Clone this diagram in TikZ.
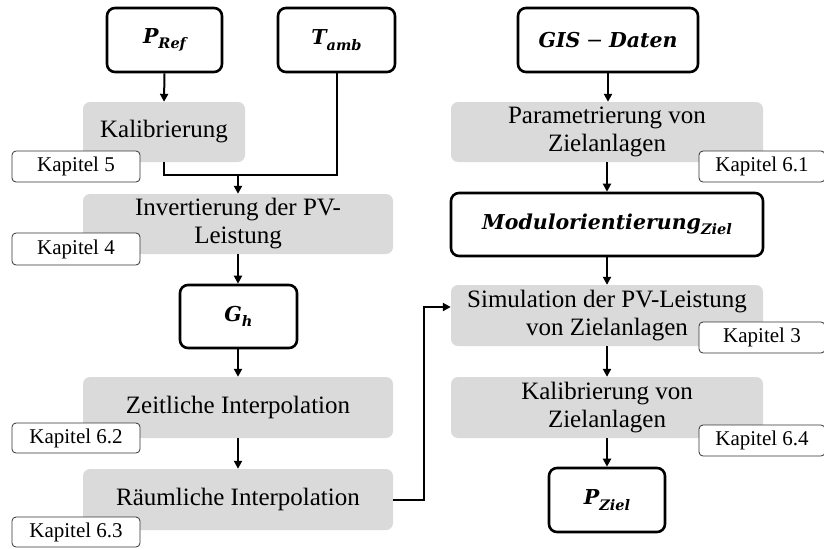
\documentclass[tikz,border=0pt]{standalone}
\usepackage{fontspec}
\setmainfont{Liberation Serif}
\newfontfamily\mathlabel{DejaVu Serif}
\usetikzlibrary{arrows.meta}
\definecolor{stepgrey}{RGB}{218,218,218}
\newcommand\sublbl[1]{\raisebox{-0.5ex}{\fontsize{14.5}{14.5}\selectfont #1}}
\newcommand\varlbl[2]{{\mathlabel\bfseries\itshape #1\sublbl{#2}}}
\tikzset{
  inputbox/.style={draw=black, line width=2.6pt, rounded corners=8pt, fill=white,
    inner sep=0pt, font=\fontsize{20.5}{24}\selectfont},
  stepbox/.style={fill=stepgrey, rounded corners=7pt, inner sep=0pt, align=center,
    font=\fontsize{25}{28}\selectfont},
  kapbox/.style={draw=black!80, line width=0.8pt, rounded corners=4pt, fill=white,
    inner sep=0pt, font=\fontsize{21}{22}\selectfont},
  flow/.style={line width=2pt},
  arr/.style={flow, -{Triangle[length=8pt,width=8pt]}},
}
\begin{document}
\begin{tikzpicture}[x=1pt,y=-1pt]
\useasboundingbox (0,0) rectangle (824,549);
% left column
\node[inputbox, minimum width=115pt, minimum height=64pt] (pref) at (164.5,40) {\varlbl{P}{Ref}};
\node[inputbox, minimum width=117pt, minimum height=64pt] (tamb) at (336.5,40) {\varlbl{T}{amb}};
\node[stepbox, minimum width=162pt, minimum height=60pt] (kal) at (164,132) {Kalibrierung};
\node[stepbox, minimum width=310pt, minimum height=60pt] (inv) at (238,224) {Invertierung der PV-\\Leistung};
\node[inputbox, minimum width=117pt, minimum height=63pt] (gh) at (238.5,316.5) {\varlbl{G}{h}};
\node[stepbox, minimum width=310pt, minimum height=61pt] (zeit) at (238,407.5) {Zeitliche Interpolation};
\node[stepbox, minimum width=310pt, minimum height=61pt] (raum) at (238,499.5) {Räumliche Interpolation};
\node[kapbox, minimum width=128pt, minimum height=31pt] (k5) at (76,166.5) {Kapitel 5};
\node[kapbox, minimum width=128pt, minimum height=32pt] (k4) at (76,249) {Kapitel 4};
\node[kapbox, minimum width=128pt, minimum height=30pt] (k62) at (76,438) {Kapitel 6.2};
\node[kapbox, minimum width=128pt, minimum height=30pt] (k63) at (76,532) {Kapitel 6.3};
% right column
\node[inputbox, minimum width=180pt, minimum height=64pt] (gis) at (608,40) {{\mathlabel\bfseries\itshape GIS\;{\upshape\mdseries −}\;Daten}};
\node[stepbox, minimum width=312pt, minimum height=60pt] (par) at (607,132) {Parametrierung von\\Zielanlagen};
\node[inputbox, minimum width=312pt, minimum height=63pt] (mod) at (607,224.5) {\varlbl{Modulorientierung}{Ziel}};
\node[stepbox, minimum width=312pt, minimum height=61pt] (sim) at (607,315.5) {Simulation der PV-Leistung\\von Zielanlagen};
\node[stepbox, minimum width=312pt, minimum height=61pt] (kalz) at (607,407.5) {Kalibrierung von\\Zielanlagen};
\node[inputbox, minimum width=116pt, minimum height=64pt] (pziel) at (607,500) {\varlbl{P}{Ziel}};
\node[kapbox, minimum width=126pt, minimum height=31pt] (k61) at (762,166.5) {Kapitel 6.1};
\node[kapbox, minimum width=126pt, minimum height=31pt] (k3) at (762,337.5) {Kapitel 3};
\node[kapbox, minimum width=126pt, minimum height=31pt] (k64) at (762,440.5) {Kapitel 6.4};
% connectors
\coordinate (join) at (238,175);
\coordinate (bend) at (424,307);
\draw[arr] (pref.south) -- (kal.north);
\draw[flow] (kal.south) -- (kal.south |- join) -- (tamb.south |- join) -- (tamb.south);
\draw[arr] (join) -- (inv.north);
\draw[arr] (inv.south) -- (inv.south |- gh.north);
\draw[arr] (gh.south -| inv.south) -- (zeit.north);
\draw[arr] (zeit.south) -- (raum.north);
\draw[arr] (raum.east) -| (bend) -- (sim.west |- bend);
\draw[arr] (gis.south) -- (gis.south |- par.north);
\draw[arr] (par.south) -- (mod.north);
\draw[arr] (mod.south) -- (sim.north);
\draw[arr] (sim.south) -- (kalz.north);
\draw[arr] (kalz.south) -- (pziel.north);
\end{tikzpicture}
\end{document}
